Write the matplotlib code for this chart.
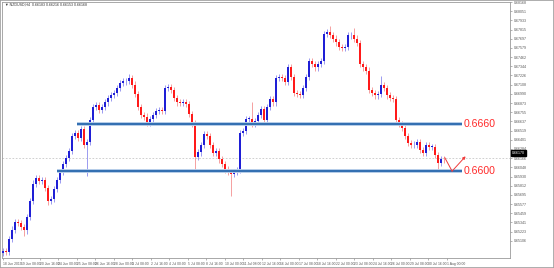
import matplotlib.pyplot as plt
import numpy as np

# NZDUSD H4 closes from left to right
closes = [0.6498, 0.6496, 0.6513, 0.6525, 0.6535, 0.6533, 0.6528, 0.6524, 0.6541, 0.6562,
          0.6584, 0.6591, 0.6587, 0.6589, 0.6578, 0.6562, 0.6564, 0.6577, 0.6589, 0.6599,
          0.6609, 0.6617, 0.6626, 0.6645, 0.6649, 0.6642, 0.6654, 0.6633, 0.6637, 0.6666,
          0.6682, 0.6685, 0.6678, 0.6682, 0.6688, 0.6694, 0.6698, 0.6700, 0.6707, 0.6713,
          0.6715, 0.6716, 0.6719, 0.6711, 0.6699, 0.6682, 0.6672, 0.6670, 0.6662, 0.6667,
          0.6672, 0.6677, 0.6678, 0.6677, 0.6707, 0.6708, 0.6704, 0.6694, 0.6688, 0.6687,
          0.6689, 0.6686, 0.6673, 0.6661, 0.6618, 0.6624, 0.6633, 0.6648, 0.6645, 0.6633,
          0.6623, 0.6626, 0.6615, 0.6609, 0.6602, 0.6599, 0.6596, 0.6599, 0.6601, 0.6649,
          0.6651, 0.6667, 0.6667, 0.6661, 0.6664, 0.6672, 0.6680, 0.6666, 0.6682, 0.6692,
          0.6688, 0.6719, 0.6721, 0.6719, 0.6714, 0.6733, 0.6721, 0.6700, 0.6699, 0.6698,
          0.6707, 0.6721, 0.6741, 0.6737, 0.6733, 0.6737, 0.6741, 0.6776, 0.6778, 0.6775,
          0.6770, 0.6765, 0.6759, 0.6758, 0.6759, 0.6774, 0.6775, 0.6770, 0.6764, 0.6737,
          0.6733, 0.6729, 0.6704, 0.6700, 0.6697, 0.6699, 0.6710, 0.6707, 0.6697, 0.6694,
          0.6692, 0.6666, 0.6660, 0.6655, 0.6645, 0.6636, 0.6633, 0.6634, 0.6637, 0.6627,
          0.6623, 0.6633, 0.6631, 0.6631, 0.6621, 0.6611, 0.6616, 0.6615]
first_open = 0.6495

# long wicks that stand out on the chart (candle index -> price)
long_lows = {7: 0.6517, 15: 0.6557, 28: 0.6594, 64: 0.6602, 76: 0.6568, 145: 0.6602}
long_highs = {42: 0.6725, 83: 0.6688, 95: 0.6737, 109: 0.6786, 117: 0.6784, 126: 0.6722}

levels = [0.6660, 0.6600]
level_start = [24.7, 18.0]
level_labels = ["0.6660", "0.6600"]
last_price = 0.6617

xlabels = ["18 Jun 2019", "19 Jun 08:00", "20 Jun 16:00", "24 Jun 00:00", "25 Jun 08:00",
           "26 Jun 16:00", "28 Jun 00:00", "1 Jul 08:00", "2 Jul 16:00", "4 Jul 00:00",
           "5 Jul 08:00", "8 Jul 16:00", "10 Jul 00:00", "11 Jul 08:00", "12 Jul 16:00",
           "16 Jul 00:00", "17 Jul 08:00", "18 Jul 16:00", "22 Jul 00:00", "23 Jul 08:00",
           "24 Jul 16:00", "26 Jul 00:00", "29 Jul 08:00", "30 Jul 16:00", "1 Aug 00:00"]

plt.rcParams['font.family'] = ['Liberation Sans', 'DejaVu Sans']

closes = np.array(closes)
opens = np.concatenate([[first_open], closes[:-1]])
n = len(closes)
idx = np.arange(n)
top = np.maximum(opens, closes)
bot = np.minimum(opens, closes)
highs = top + 0.0004
lows = bot - 0.0004
for k, v in long_highs.items():
    highs[k] = v
for k, v in long_lows.items():
    lows[k] = v
up = closes >= opens

W, H = 554, 268
fig = plt.figure(figsize=(W / 100, H / 100), dpi=100)
ax = fig.add_axes([2 / W, 1 - 258 / H, 508 / W, 256 / H])

bull = "#1f1fd6"
bear = "#ff1a1a"
ax.vlines(idx[up], lows[up], highs[up], color="#9a9af0", lw=0.7, zorder=2)
ax.vlines(idx[~up], lows[~up], highs[~up], color="#f5a0a0", lw=0.7, zorder=2)
hgt = np.maximum(top - bot, 0.00006)
ax.bar(idx[up], hgt[up], bottom=bot[up], width=0.78, color=bull, zorder=3)
ax.bar(idx[~up], hgt[~up], bottom=bot[~up], width=0.78, color=bear, zorder=3)

# current price line
ax.axhline(last_price, color="#c8c8c8", lw=0.6, ls=(0, (2, 2)), zorder=1)

# support / resistance levels
for lv, x0, lab in zip(levels, level_start, level_labels):
    ax.hlines(lv, x0, 153, color="#b9d0ea", lw=2.8, zorder=4)
    ax.hlines(lv, x0, 153, color="#3470b2", lw=1.5, zorder=5)
    ax.text(153.4, lv, lab, color="#ff2a2a", fontsize=7.6, va="center", ha="left", zorder=6)

# projected path
ax.plot([147.3, 149.7], [0.6617, 0.6600], color="#f03c3c", lw=0.7, zorder=6)
ax.annotate("", xy=(154.2, 0.6619), xytext=(149.7, 0.6600),
            arrowprops=dict(arrowstyle="-|>", color="#f03c3c", lw=0.7,
                            mutation_scale=4, shrinkA=0, shrinkB=0), zorder=6)

ax.set_xlim(-0.33, 169)
ax.set_ylim(0.64886, 0.68020)

ax.yaxis.tick_right()
yt = 0.66637 + 0.001178 * np.arange(-13, 14)
ax.set_yticks(yt)
ax.set_yticklabels(["%.5f" % v for v in yt], fontsize=2.6, color="#555555")
ax.tick_params(axis="y", length=1.5, width=0.4, pad=1.5, colors="#777777")
xt = (np.array([3, 21.5, 40, 58.5, 77, 95.5, 114, 132.5, 151, 169.5, 188, 206.5, 225,
                243.5, 262, 280.5, 299, 317.5, 336, 354.5, 373, 391.5, 410, 428.5, 447]) - 3) / 3
ax.set_xticks(xt)
ax.set_xticklabels(xlabels, fontsize=2.4, color="#555555", ha="left")
ax.tick_params(axis="x", length=1.5, width=0.4, pad=1.5, colors="#777777")
for lab in ax.get_yticklabels() + ax.get_xticklabels():
    lab.set_color("#555555")
for s in ax.spines.values():
    s.set_color("#9a9a9a")
    s.set_linewidth(0.6)

# price box on the axis
fig.text(512 / W, 1 - 153 / H, "0.66170", fontsize=2.6, color="white", va="center", ha="left",
         bbox=dict(boxstyle="square,pad=0.25", fc="black", ec="black"))

# header
fig.text(5 / W, 1 - 5 / H, "\u25bc NZDUSD,H4  0.66183 0.66216 0.66153 0.66168",
         fontsize=2.6, color="#333333", va="center", ha="left")

fig.patches.append(plt.Rectangle((0, 0), 1, 1, transform=fig.transFigure, fill=False,
                                 ec="#a0a0a0", lw=1.2))

fig.savefig("out.png", dpi=100)
